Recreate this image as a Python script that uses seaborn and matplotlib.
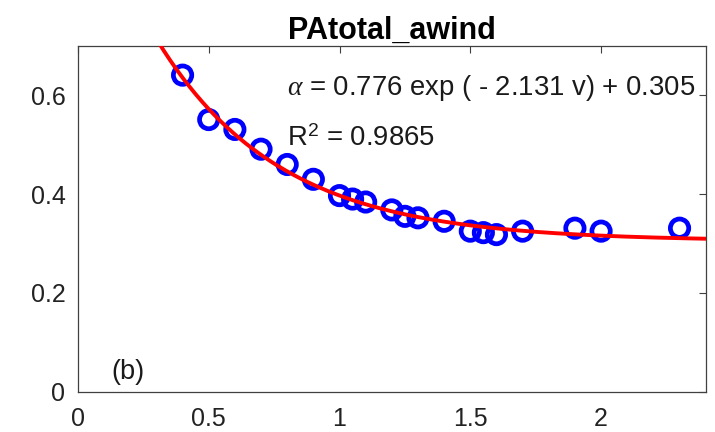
import numpy as np
import pandas as pd
import matplotlib
matplotlib.use("Agg")
import matplotlib.pyplot as plt
import seaborn as sns

# Measured points: wind speed v and PAtotal alpha
v_obs = [0.4, 0.5, 0.6, 0.7, 0.8, 0.9, 1.0, 1.05, 1.1, 1.2, 1.25, 1.3,
         1.4, 1.5, 1.55, 1.6, 1.7, 1.9, 2.0, 2.3]
alpha_obs = [0.641, 0.551, 0.531, 0.491, 0.460, 0.430, 0.397, 0.390, 0.384,
             0.368, 0.355, 0.352, 0.345, 0.325, 0.322, 0.318, 0.325, 0.331,
             0.325, 0.331]

# Fitted model: alpha = a * exp(-b v) + c
fit_a, fit_b, fit_c = 0.776, 2.131, 0.305
r_squared = 0.9865

x_ticks = [0, 0.5, 1, 1.5, 2]
x_tick_labels = ["0", "0.5", "1", "1.5", "2"]
y_ticks = [0, 0.2, 0.4, 0.6]
y_tick_labels = ["0", "0.2", "0.4", "0.6"]

sns.set_style("white")
plt.rcParams["font.family"] = ["Liberation Sans", "DejaVu Sans"]
plt.rcParams["mathtext.fontset"] = "custom"
plt.rcParams["mathtext.rm"] = "Liberation Sans"
plt.rcParams["mathtext.it"] = "Liberation Serif:italic"

fig = plt.figure(figsize=(7.15, 4.32), dpi=100)
ax = fig.add_axes([0.109, 0.0935, 0.878, 0.8])

obs = pd.DataFrame({"v": v_obs, "alpha": alpha_obs})
v_fit = np.linspace(0.0, 2.4, 300)
curve = pd.DataFrame({"v": v_fit, "alpha": fit_a * np.exp(-fit_b * v_fit) + fit_c})

sns.scatterplot(data=obs, x="v", y="alpha", ax=ax, marker="o", s=175,
                facecolor="none", edgecolor="#0000ff", linewidth=3.4, zorder=3)
sns.lineplot(data=curve, x="v", y="alpha", ax=ax, color="#ff0000",
             linewidth=2.8, zorder=4)

ax.set_xlim(0, 2.4)
ax.set_ylim(0, 0.7)
ax.set_xticks(x_ticks)
ax.set_xticklabels(x_tick_labels)
ax.set_yticks(y_ticks)
ax.set_yticklabels(y_tick_labels)
ax.set_xlabel("")
ax.set_ylabel("")
ax.tick_params(direction="in", length=5, width=0.8, color="#404040",
               labelsize=18, labelcolor="#222222", top=True, right=True)
ax.tick_params(axis="x", pad=11)
ax.tick_params(axis="y", pad=9)
for sp in ax.spines.values():
    sp.set_visible(True)
    sp.set_color("#404040")
    sp.set_linewidth(0.9)

ax.set_title("PAtotal_awind", fontsize=22, fontweight="bold", pad=5,
             color="black")

ax.text(0.80, 0.615,
        r"$\alpha$ = %.3f exp ( - %.3f v) + %.3f" % (fit_a, fit_b, fit_c),
        fontsize=19.8, va="center", ha="left", color="#1a1a1a")
ax.text(0.80, 0.512, r"R$^{\mathrm{2}}$ = %.4f" % r_squared,
        fontsize=19.8, va="center", ha="left", color="#1a1a1a")
ax.text(0.19, 0.04, "(b)", fontsize=19.5, va="center", ha="center",
        color="#1a1a1a")

fig.savefig("out.png", dpi=100)
